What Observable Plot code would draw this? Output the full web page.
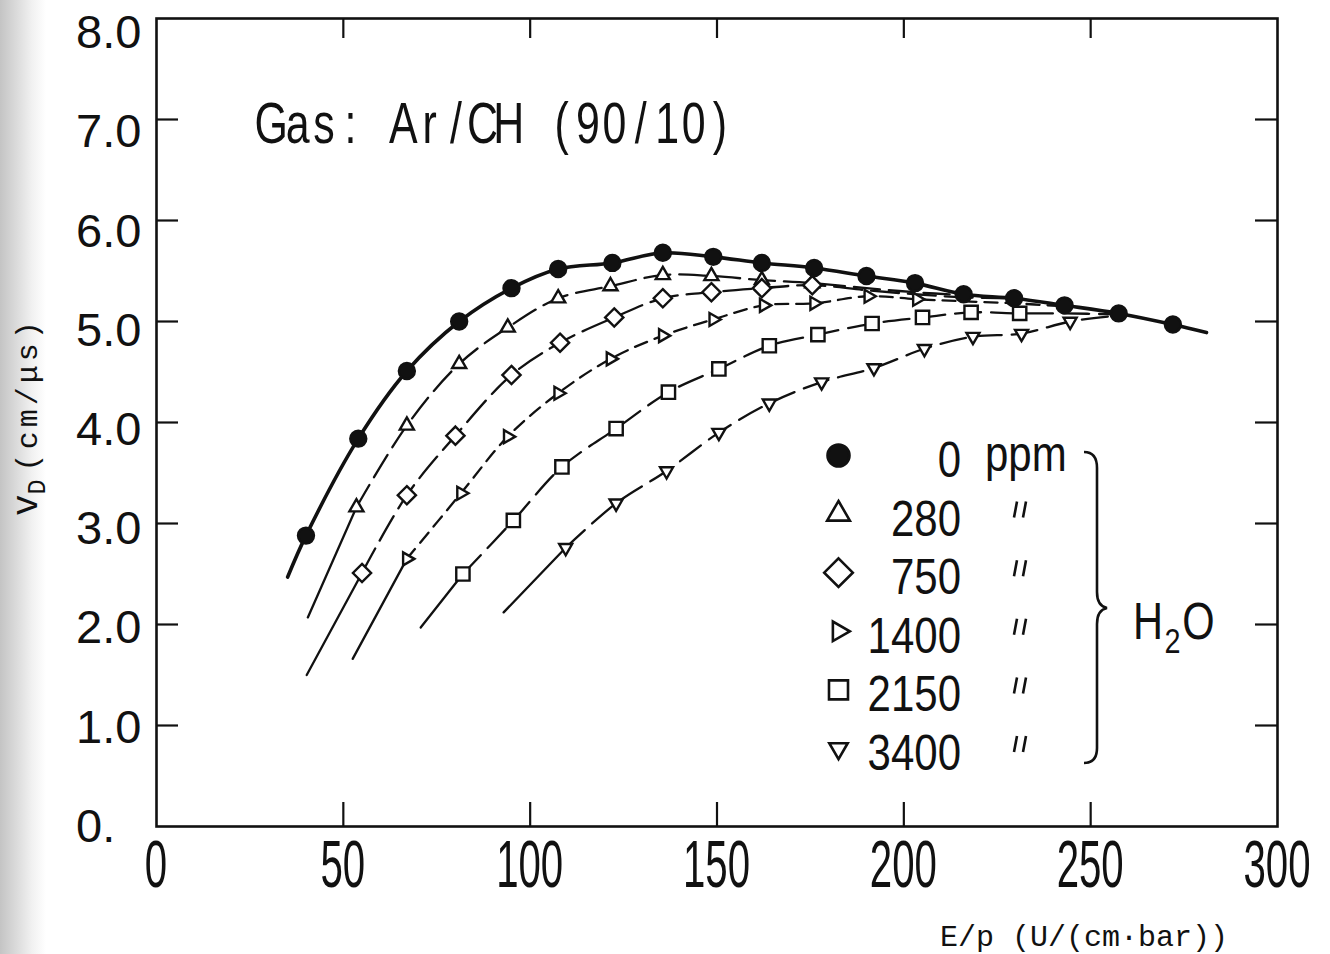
<!DOCTYPE html>
<html>
<head>
<meta charset="utf-8">
<script src="https://cdn.jsdelivr.net/npm/d3@7"></script>
<script src="https://cdn.jsdelivr.net/npm/@observablehq/plot@0.6"></script>
<style>
  html, body { margin: 0; padding: 0; background: #fff; }
  #chart {
    position: relative; width: 1330px; height: 954px; overflow: hidden;
    background: linear-gradient(to right, #c4c4c4 0px, #dadada 16px, #f1f1f1 32px, #fff 46px);
  }
  #chart svg { display: block; }
</style>
</head>
<body>
<div id="chart"></div>
<script>
// Drift velocity of electrons in Ar/CH4 (90/10) versus reduced field E/p,
// for several water admixtures (ppm H2O).

// ---- axis ticks and labels ----
const xTicks = [50, 100, 150, 200, 250];
const xLabelValues = [0, 50, 100, 150, 200, 250, 300];
const xLabelText = ["0", "50", "100", "150", "200", "250", "300"];
const yTicks = [1, 2, 3, 4, 5, 6, 7];
const yLabelValues = [0, 1, 2, 3, 4, 5, 6, 7, 8];
const yLabelText = ["0.", "1.0", "2.0", "3.0", "4.0", "5.0", "6.0", "7.0", "8.0"];

// ---- series: measured points (E/p, vD) plus the ends of each fitted curve ----
const seriesNames = ["0", "280", "750", "1400", "2150", "3400"];

const ppm0X = [40, 54, 67, 81, 95, 107.5, 122, 135.5, 149, 162, 176, 190, 203, 216, 229.5, 243, 257.5, 272];
const ppm0V = [2.88, 3.84, 4.51, 5.00, 5.33, 5.52, 5.58, 5.68, 5.64, 5.58, 5.53, 5.45, 5.38, 5.27, 5.23, 5.16, 5.08, 4.97];
const ppm0HeadX = [35.1], ppm0HeadV = [2.47];
const ppm0TailX = [281], ppm0TailV = [4.89];

const ppm280X = [53.5, 67, 81, 94, 107.5, 121.5, 135.5, 148.5, 162, 175.5];
const ppm280V = [3.16, 3.97, 4.58, 4.94, 5.23, 5.35, 5.46, 5.45, 5.41, 5.38];
const ppm280HeadX = [40.5], ppm280HeadV = [2.07];
const ppm280TailX = [190, 203, 216], ppm280TailV = [5.33, 5.29, 5.26];

const ppm750X = [55, 67, 80, 95, 108, 122.5, 135.5, 148.5, 162, 175.5];
const ppm750V = [2.51, 3.28, 3.87, 4.47, 4.79, 5.04, 5.23, 5.29, 5.33, 5.36];
const ppm750HeadX = [40.2], ppm750HeadV = [1.50];
const ppm750TailX = [190, 203, 216, 229.5], ppm750TailV = [5.31, 5.27, 5.24, 5.23];

const ppm1400X = [67, 81.5, 94, 107.5, 121.5, 135.5, 149, 162.5, 176, 190.5, 203.5];
const ppm1400V = [2.65, 3.30, 3.86, 4.29, 4.63, 4.86, 5.02, 5.16, 5.18, 5.25, 5.22];
const ppm1400HeadX = [52.5], ppm1400HeadV = [1.66];
const ppm1400TailX = [216, 229.5, 243], ppm1400TailV = [5.20, 5.18, 5.15];

const ppm2150X = [82, 95.5, 108.5, 123, 137, 150.5, 164, 177, 191.5, 205, 218, 231];
const ppm2150V = [2.50, 3.03, 3.56, 3.94, 4.30, 4.53, 4.76, 4.87, 4.98, 5.04, 5.09, 5.08];
const ppm2150HeadX = [70.7], ppm2150HeadV = [1.97];
const ppm2150TailX = [243, 257.5], ppm2150TailV = [5.08, 5.07];

const ppm3400X = [109.5, 123, 136.5, 150.5, 164, 178, 192, 205.5, 218.5, 231.5, 244.5];
const ppm3400V = [2.76, 3.20, 3.52, 3.90, 4.19, 4.40, 4.54, 4.73, 4.85, 4.88, 5.00];
const ppm3400HeadX = [92.9], ppm3400HeadV = [2.12];
const ppm3400TailX = [257.5], ppm3400TailV = [5.06];

// ---- marker shapes ----
const triangle = (angle) => ({
  draw(c, size) {
    const r = Math.sqrt(size / Math.PI) * 1.25;
    for (let k = 0; k < 3; k++) {
      const a = angle + k * 2 * Math.PI / 3;
      const px = r * Math.cos(a), py = r * Math.sin(a);
      k ? c.lineTo(px, py) : c.moveTo(px, py);
    }
    c.closePath();
  }
});
const diamond = {
  draw(c, size) {
    const r = Math.sqrt(size / Math.PI) * 1.3;
    c.moveTo(0, -r); c.lineTo(r, 0); c.lineTo(0, r); c.lineTo(-r, 0); c.closePath();
  }
};
const square = {
  draw(c, size) {
    const h = Math.sqrt(size / Math.PI) * 0.95;
    c.moveTo(-h, -h); c.lineTo(h, -h); c.lineTo(h, h); c.lineTo(-h, h); c.closePath();
  }
};

const rows = (xs, vs) => xs.map((x, i) => ({x, v: vs[i]}));

const series = [
  {name: seriesNames[0], pts: rows(ppm0X, ppm0V), head: rows(ppm0HeadX, ppm0HeadV), tail: rows(ppm0TailX, ppm0TailV),
   symbol: "circle", fill: "#111", r: 8, legendR: 11, dash: null},
  {name: seriesNames[1], pts: rows(ppm280X, ppm280V), head: rows(ppm280HeadX, ppm280HeadV), tail: rows(ppm280TailX, ppm280TailV),
   symbol: triangle(-Math.PI / 2), fill: "white", r: 6.5, legendR: 10.5, dash: "26,9"},
  {name: seriesNames[2], pts: rows(ppm750X, ppm750V), head: rows(ppm750HeadX, ppm750HeadV), tail: rows(ppm750TailX, ppm750TailV),
   symbol: diamond, fill: "white", r: 7, legendR: 11, dash: "28,9"},
  {name: seriesNames[3], pts: rows(ppm1400X, ppm1400V), head: rows(ppm1400HeadX, ppm1400HeadV), tail: rows(ppm1400TailX, ppm1400TailV),
   symbol: triangle(0), fill: "white", r: 6, legendR: 9, dash: "13,8"},
  {name: seriesNames[4], pts: rows(ppm2150X, ppm2150V), head: rows(ppm2150HeadX, ppm2150HeadV), tail: rows(ppm2150TailX, ppm2150TailV),
   symbol: square, fill: "white", r: 7, legendR: 10, dash: "26,10"},
  {name: seriesNames[5], pts: rows(ppm3400X, ppm3400V), head: rows(ppm3400HeadX, ppm3400HeadV), tail: rows(ppm3400TailX, ppm3400TailV),
   symbol: triangle(Math.PI / 2), fill: "white", r: 6, legendR: 8.5, dash: "26,10"}
];

// ---- layout ----
const W = 1330, H = 954;
const mL = 156, mR = 53, mT = 18, mB = 128;
const plotW = W - mL - mR, plotH = H - mT - mB;
const INK = "#111";
const legendX = 838, legendTop = 455, legendGap = 58.6;

const lineMarks = series.flatMap((s) => {
  if (!s.dash) {
    return [Plot.line([...s.head, ...s.pts, ...s.tail], {x: "x", y: "v", curve: "catmull-rom", stroke: INK, strokeWidth: 3.6})];
  }
  return [
    Plot.line([...s.head, s.pts[0]], {x: "x", y: "v", stroke: INK, strokeWidth: 2.3}),
    Plot.line([...s.pts, ...s.tail], {x: "x", y: "v", curve: "catmull-rom", stroke: INK, strokeWidth: 2.3, strokeDasharray: s.dash})
  ];
});

const dotMarks = series.map((s) =>
  Plot.dot(s.pts, {x: "x", y: "v", symbol: s.symbol, r: s.r, fill: s.fill, stroke: INK, strokeWidth: 2.4})
);

const legendMarks = series.map((s, i) =>
  Plot.dot([s], {frameAnchor: "top-left", dx: legendX - mL, dy: legendTop + i * legendGap - mT,
    symbol: s.symbol, r: s.legendR, fill: s.fill, stroke: INK, strokeWidth: 2.6})
);

const chart = Plot.plot({
  width: W, height: H,
  marginLeft: mL, marginRight: mR, marginTop: mT, marginBottom: mB,
  style: {background: "transparent", overflow: "visible"},
  x: {domain: [0, 300], axis: null},
  y: {domain: [0, 8], axis: null},
  marks: [
    // inward tick marks on all four sides
    Plot.ruleX(xTicks, {x: (d) => d, insetTop: plotH - 24, stroke: INK, strokeWidth: 2.2}),
    Plot.ruleX(xTicks, {x: (d) => d, insetBottom: plotH - 20, stroke: INK, strokeWidth: 2.2}),
    Plot.ruleY(yTicks, {y: (d) => d, insetRight: plotW - 22, stroke: INK, strokeWidth: 2.2}),
    Plot.ruleY(yTicks, {y: (d) => d, insetLeft: plotW - 22, stroke: INK, strokeWidth: 2.2}),
    ...lineMarks,
    ...dotMarks,
    ...legendMarks,
    Plot.frame({stroke: INK, strokeWidth: 2.6})
  ]
});

document.getElementById("chart").appendChild(chart);

// ---- lettering ----
const MONO = "'Liberation Mono', 'DejaVu Sans Mono', monospace";
const SANS = "'Liberation Sans', Arial, sans-serif";
const CAP_SANS = 0.716, CAP_MONO = 0.66;
const xs = chart.scale("x"), ys = chart.scale("y");
const svg = d3.select(chart);
const g = svg.append("g").attr("fill", INK).attr("text-anchor", "start");
const measure = document.createElement("canvas").getContext("2d");

// lettering centred vertically on y, optionally condensed horizontally
function letter(str, x, y, {size, sx = 1, anchor = "start", family = SANS, cap = CAP_SANS}) {
  return g.append("text")
    .attr("transform", `translate(${x},${y + size * cap / 2}) scale(${sx},1)`)
    .attr("text-anchor", anchor)
    .attr("font-family", family)
    .attr("font-size", size)
    .text(str);
}

// fixed-pitch lettering: every character centred in a cell of the same width
function stencil(str, x, y, {size, sx = 1, pitch, family = SANS, cap = CAP_SANS}) {
  measure.font = `${size}px ${family}`;
  const cell = pitch / sx;
  const pos = [...str].map((ch, i) => i * cell + (cell - measure.measureText(ch).width) / 2);
  return g.append("text")
    .attr("transform", `translate(${x},${y + size * cap / 2}) scale(${sx},1)`)
    .attr("font-family", family)
    .attr("font-size", size)
    .attr("x", pos.join(" "))
    .text(str);
}

// x tick labels
xLabelValues.forEach((v, i) => letter(xLabelText[i], xs.apply(v), 863, {size: 67, sx: 0.6, anchor: "middle"}));

// y tick labels (sit a little below their ticks, less so towards the origin)
yLabelValues.forEach((v, i) => letter(yLabelText[i], 76, ys.apply(v) + 1.8 * v - 1, {size: 47}));

// gas mixture
stencil("Gas: Ar/CH (90/10)", 258, 122, {size: 58, sx: 0.74, pitch: 26.4});

// legend labels
series.forEach((s, i) => {
  const cy = legendTop + i * legendGap + 4;
  letter(s.name, 961, cy, {size: 50, sx: 0.84, anchor: "end"});
  if (i === 0) {
    letter("ppm", 985, cy - 6, {size: 50, sx: 0.84});
  } else {
    // ditto marks
    const dx = 1017, dy = cy - 8;
    g.append("path")
      .attr("d", `M${dx},${dy - 8}L${dx - 3},${dy + 8}M${dx + 9},${dy - 8}L${dx + 6},${dy + 8}`)
      .attr("stroke", INK).attr("stroke-width", 2.6).attr("fill", "none");
  }
});

// brace grouping the water concentrations
g.append("path")
  .attr("d", "M1084,452 Q1097,452 1097,468 L1097,592 Q1097,606 1107,608 Q1097,610 1097,624 L1097,748 Q1097,763 1084,763")
  .attr("stroke", INK).attr("stroke-width", 2.6).attr("fill", "none");

// H2O
{
  const t = g.append("text")
    .attr("transform", `translate(1133,${620 + 52 * CAP_SANS / 2}) scale(0.8,1)`)
    .attr("font-family", SANS).attr("font-size", 52);
  t.append("tspan").text("H");
  t.append("tspan").attr("font-size", 36).attr("dy", 14).attr("dx", 2).text("2");
  t.append("tspan").attr("dy", -14).attr("dx", 2).text("O");
}

// axis titles
letter("E/p (U/(cm\u00b7bar))", 940, 936, {size: 30, family: MONO, cap: CAP_MONO});
{
  const t = g.append("text")
    .attr("transform", "translate(37,516) rotate(-90)")
    .attr("font-family", MONO).attr("font-size", 36);
  t.append("tspan").text("v");
  t.append("tspan").attr("font-size", 25).attr("dy", 8).text("D");
  t.append("tspan").attr("font-size", 30).attr("dy", -8).attr("dx", 8)
    .attr("letter-spacing", 4).text("(cm/\u03bcs)");
}
</script>
</body>
</html>
